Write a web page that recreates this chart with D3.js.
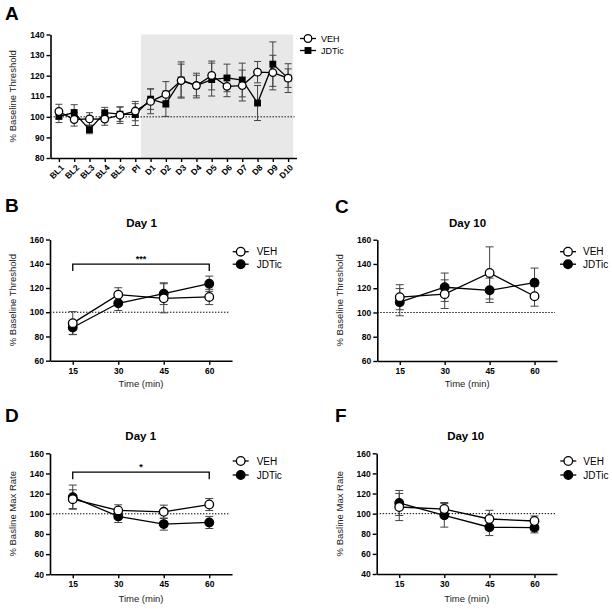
<!DOCTYPE html>
<html>
<head>
<meta charset="utf-8">
<script src="https://cdn.jsdelivr.net/npm/d3@7"></script>
<style>
  html, body { margin: 0; padding: 0; background: #fff; }
  svg { display: block; font-family: "Liberation Sans", Arial, sans-serif; }
</style>
</head>
<body>
<svg id="chart" width="612" height="609"></svg>
<script>
// ---------- DATA ----------
const catsA = ["BL1","BL2","BL3","BL4","BL5","PI","D1","D2","D3","D4","D5","D6","D7","D8","D9","D10"];
const vehA    = [102.6, 98.7, 99.0, 98.9, 100.8, 102.8, 107.5, 110.9, 117.6, 115.2, 120.1, 114.8, 115.2, 121.7, 121.5, 118.8];
const vehAErr = [3.5, 3.2, 3.0, 3.0, 4.0, 4.7, 6.0, 6.2, 8.0, 6.0, 7.0, 5.0, 7.5, 5.2, 8.4, 7.0];
const jdtA    = [100.2, 102.1, 93.8, 102.0, 101.3, 101.1, 108.6, 106.4, 117.9, 115.2, 118.1, 118.9, 117.9, 106.7, 125.6, 118.8];
const jdtAErr = [3.0, 3.8, 2.0, 2.6, 3.5, 5.3, 5.0, 6.2, 8.8, 5.0, 8.0, 6.7, 8.2, 8.5, 10.8, 4.5];
const ticksA  = [80, 90, 100, 110, 120, 130, 140];

const times = [15, 30, 45, 60];
const vehB = [91.0, 114.5, 111.5, 112.6],  vehBErr = [9.5, 5.7, 12.0, 6.3];
const jdtB = [87.4, 107.4, 115.3, 123.5],  jdtBErr = [5.7, 6.0, 9.0, 6.3];
const vehC = [112.6, 115.1, 132.6, 113.4], vehCErr = [10.3, 11.8, 21.5, 8.2];
const jdtC = [108.5, 120.8, 118.3, 124.6], jdtCErr = [11.2, 11.7, 10.0, 12.0];
const vehD = [114.5, 103.3, 102.0, 109.2], vehDErr = [9.3, 5.6, 6.6, 6.0];
const jdtD = [116.5, 97.4, 89.8, 91.4],    jdtDErr = [12.0, 6.0, 6.0, 6.0];
const vehF = [106.6, 104.6, 94.7, 92.7],   vehFErr = [13.5, 6.5, 8.6, 5.0];
const jdtF = [110.6, 98.3, 86.5, 86.1],    jdtFErr = [12.4, 11.7, 8.3, 5.2];
const ticksThreshold = [60, 80, 100, 120, 140, 160];
const ticksRate = [40, 60, 80, 100, 120, 140, 160];
const seriesNames = ["VEH", "JDTic"];

// ---------- DRAWING ----------
const svg = d3.select("#chart");

function drawPanel(o) {
  const g = svg.append("g");
  const x = o.x, y = o.y;
  const xr = x.range(), yr = y.range();

  if (o.shade) {
    const st = x.step();
    g.append("rect")
      .attr("x", x(o.shade[0]) - st * 0.63)
      .attr("y", y(o.yDomain[1]))
      .attr("width", x(o.shade[1]) + st * 0.33 - (x(o.shade[0]) - st * 0.63))
      .attr("height", y(o.yDomain[0]) - y(o.yDomain[1]))
      .attr("fill", "#e8e8e8");
  }

  // dotted baseline
  g.append("line")
    .attr("x1", xr[0]).attr("x2", xr[1] - 2)
    .attr("y1", y(100)).attr("y2", y(100))
    .attr("stroke", "#000").attr("stroke-width", 1)
    .attr("stroke-dasharray", "1.4,1.6");

  // axes
  const ya = g.append("g").attr("transform", `translate(${xr[0]},0)`)
    .call(d3.axisLeft(y).tickValues(o.yTicks).tickSize(4).tickSizeOuter(0).tickPadding(2));
  ya.select(".domain").attr("stroke-width", 1.6);
  ya.selectAll(".tick line").attr("stroke-width", 1.4);
  ya.selectAll("text").attr("font-size", 8.5).attr("font-weight", "bold").attr("fill", "#000")
    .attr("font-family", "Liberation Sans, Arial, sans-serif");

  const xa = g.append("g").attr("transform", `translate(0,${yr[0]})`)
    .call(d3.axisBottom(x).tickSize(4).tickSizeOuter(0).tickPadding(3));
  xa.select(".domain").attr("stroke-width", 1.6);
  xa.selectAll(".tick line").attr("stroke-width", 1.4);
  xa.selectAll("text").attr("font-size", 8.5).attr("font-weight", "bold").attr("fill", "#000")
    .attr("font-family", "Liberation Sans, Arial, sans-serif");
  if (o.rotate) {
    xa.selectAll("text")
      .attr("text-anchor", "end")
      .attr("x", 0).attr("y", 0).attr("dy", "0.35em")
      .attr("transform", "translate(3,8) rotate(-45)");
  }

  // series
  const series = [
    { name: seriesNames[1], vals: o.jdt, err: o.jdtErr, fill: "#000" },
    { name: seriesNames[0], vals: o.veh, err: o.vehErr, fill: "#fff" }
  ];
  const cats = x.domain();
  const cap = o.capW;
  series.forEach(s => {
    const eg = g.append("g");
    cats.forEach((c, i) => {
      const cx = x(c), hi = y(s.vals[i] + s.err[i]), lo = y(s.vals[i] - s.err[i]);
      eg.append("line").attr("x1", cx).attr("x2", cx).attr("y1", hi).attr("y2", lo)
        .attr("stroke", "#444").attr("stroke-width", 1);
      [hi, lo].forEach(yy => eg.append("line").attr("x1", cx - cap).attr("x2", cx + cap)
        .attr("y1", yy).attr("y2", yy).attr("stroke", "#444").attr("stroke-width", 1));
    });
  });
  series.forEach(s => {
    const line = d3.line().x((d, i) => x(cats[i])).y(d => y(d));
    g.append("path").attr("d", line(s.vals)).attr("fill", "none")
      .attr("stroke", "#000").attr("stroke-width", 1.3);
  });
  series.forEach((s, si) => {
    cats.forEach((c, i) => {
      drawMarker(g, o.square && si === 0 ? "square" : "circle", x(c), y(s.vals[i]), s.fill, o.r);
    });
  });

  // legend
  const lg = g.append("g");
  [seriesNames[0], seriesNames[1]].forEach((nm, i) => {
    const ly = o.legY + i * o.legGap;
    lg.append("line").attr("x1", o.legX - 8).attr("x2", o.legX + 8)
      .attr("y1", ly).attr("y2", ly).attr("stroke", "#000").attr("stroke-width", 1.3);
    drawMarker(lg, (o.square && i === 1) ? "square" : "circle", o.legX, ly, i === 0 ? "#fff" : "#000", o.r);
    lg.append("text").attr("x", o.legX + o.legTx).attr("y", ly + 3.6)
      .attr("font-size", o.legFs).attr("fill", "#000").text(nm);
  });

  // axis titles
  g.append("text")
    .attr("transform", `translate(${o.yLabX},${(yr[0] + yr[1]) / 2}) rotate(-90)`)
    .attr("text-anchor", "middle").attr("font-size", 9.5).attr("fill", "#222")
    .text(o.yLabel);
  if (o.xLabel) {
    g.append("text").attr("x", (xr[0] + xr[1]) / 2).attr("y", o.xLabY)
      .attr("text-anchor", "middle").attr("font-size", 9.5).attr("fill", "#222").text(o.xLabel);
  }
  if (o.title) {
    g.append("text").attr("x", o.titleX).attr("y", o.titleY)
      .attr("text-anchor", "middle").attr("font-size", 11.5).attr("font-weight", "bold").text(o.title);
  }
  svg.append("text").attr("x", o.letterX).attr("y", o.letterY)
    .attr("font-size", 19).attr("font-weight", "bold").attr("font-family", "Liberation Sans, Arial, sans-serif")
    .text(o.letter);

  if (o.sig) {
    const x1 = x(cats[0]), x2 = x(cats[cats.length - 1]);
    const yb = y(o.sig.at), yd = y(o.sig.at - o.sig.drop);
    g.append("path").attr("d", `M${x1},${yd}V${yb}H${x2}V${yd}`)
      .attr("fill", "none").attr("stroke", "#000").attr("stroke-width", 1.3);
    g.append("text").attr("x", (x1 + x2) / 2).attr("y", yb - 2.5)
      .attr("text-anchor", "middle").attr("font-size", 9).attr("font-weight", "bold").text(o.sig.label);
  }
}

function drawMarker(g, shape, cx, cy, fill, r) {
  if (shape === "square") {
    const s = r * 1.8;
    g.append("rect").attr("x", cx - s / 2).attr("y", cy - s / 2).attr("width", s).attr("height", s)
      .attr("fill", "#000");
  } else {
    g.append("circle").attr("cx", cx).attr("cy", cy).attr("r", r)
      .attr("fill", fill).attr("stroke", "#000").attr("stroke-width", 1.3);
  }
}

// Panel A
drawPanel({
  x: d3.scalePoint().domain(catsA).range([50.5, 296.5]).padding(0.55),
  y: d3.scaleLinear().domain([80, 140]).range([158, 34.5]),
  yDomain: [80, 140], yTicks: ticksA, rotate: true, shade: ["D1", "D10"],
  veh: vehA, vehErr: vehAErr, jdt: jdtA, jdtErr: jdtAErr, square: true, r: 3.8, capW: 3.5,
  legX: 308, legY: 38.5, legGap: 12, legTx: 13, legFs: 9,
  yLabel: "% Baseline Threshold", yLabX: 16, letter: "A", letterX: 5, letterY: 20
});

// Panel B
drawPanel({
  x: d3.scalePoint().domain(times).range([50, 232]).padding(0.5),
  y: d3.scaleLinear().domain([60, 160]).range([360.7, 239.5]),
  yDomain: [60, 160], yTicks: ticksThreshold,
  veh: vehB, vehErr: vehBErr, jdt: jdtB, jdtErr: jdtBErr, r: 4.3, capW: 4,
  legX: 240.7, legY: 251.7, legGap: 12.5, legTx: 16, legFs: 10,
  yLabel: "% Baseline Threshold", yLabX: 16, xLabel: "Time (min)", xLabY: 387,
  title: "Day 1", titleX: 141.5, titleY: 226.5, letter: "B", letterX: 5, letterY: 212,
  sig: { at: 139.6, drop: 5.6, label: "***" }
});

// Panel C
drawPanel({
  x: d3.scalePoint().domain(times).range([377.3, 557]).padding(0.5),
  y: d3.scaleLinear().domain([60, 160]).range([361, 239.7]),
  yDomain: [60, 160], yTicks: ticksThreshold,
  veh: vehC, vehErr: vehCErr, jdt: jdtC, jdtErr: jdtCErr, r: 4.3, capW: 4,
  legX: 568, legY: 251.7, legGap: 12.5, legTx: 15, legFs: 10,
  yLabel: "% Baseline Threshold", yLabX: 343, xLabel: "Time (min)", xLabY: 387,
  title: "Day 10", titleX: 467.5, titleY: 226.5, letter: "C", letterX: 335, letterY: 213
});

// Panel D
drawPanel({
  x: d3.scalePoint().domain(times).range([50, 232]).padding(0.5),
  y: d3.scaleLinear().domain([40, 160]).range([574.3, 453.3]),
  yDomain: [40, 160], yTicks: ticksRate,
  veh: vehD, vehErr: vehDErr, jdt: jdtD, jdtErr: jdtDErr, r: 4.3, capW: 4,
  legX: 240.7, legY: 461, legGap: 14, legTx: 16, legFs: 10,
  yLabel: "% Basline Max Rate", yLabX: 16, xLabel: "Time (min)", xLabY: 602,
  title: "Day 1", titleX: 140.7, titleY: 440, letter: "D", letterX: 5, letterY: 422,
  sig: { at: 141.4, drop: 7.2, label: "*" }
});

// Panel F
drawPanel({
  x: d3.scalePoint().domain(times).range([376.7, 557]).padding(0.5),
  y: d3.scaleLinear().domain([40, 160]).range([574, 453.3]),
  yDomain: [40, 160], yTicks: ticksRate,
  veh: vehF, vehErr: vehFErr, jdt: jdtF, jdtErr: jdtFErr, r: 4.3, capW: 4,
  legX: 568.3, legY: 461, legGap: 14, legTx: 15, legFs: 10,
  yLabel: "% Basline Max Rate", yLabX: 343, xLabel: "Time (min)", xLabY: 602,
  title: "Day 10", titleX: 465.7, titleY: 440, letter: "F", letterX: 335, letterY: 422
});
</script>
</body>
</html>
